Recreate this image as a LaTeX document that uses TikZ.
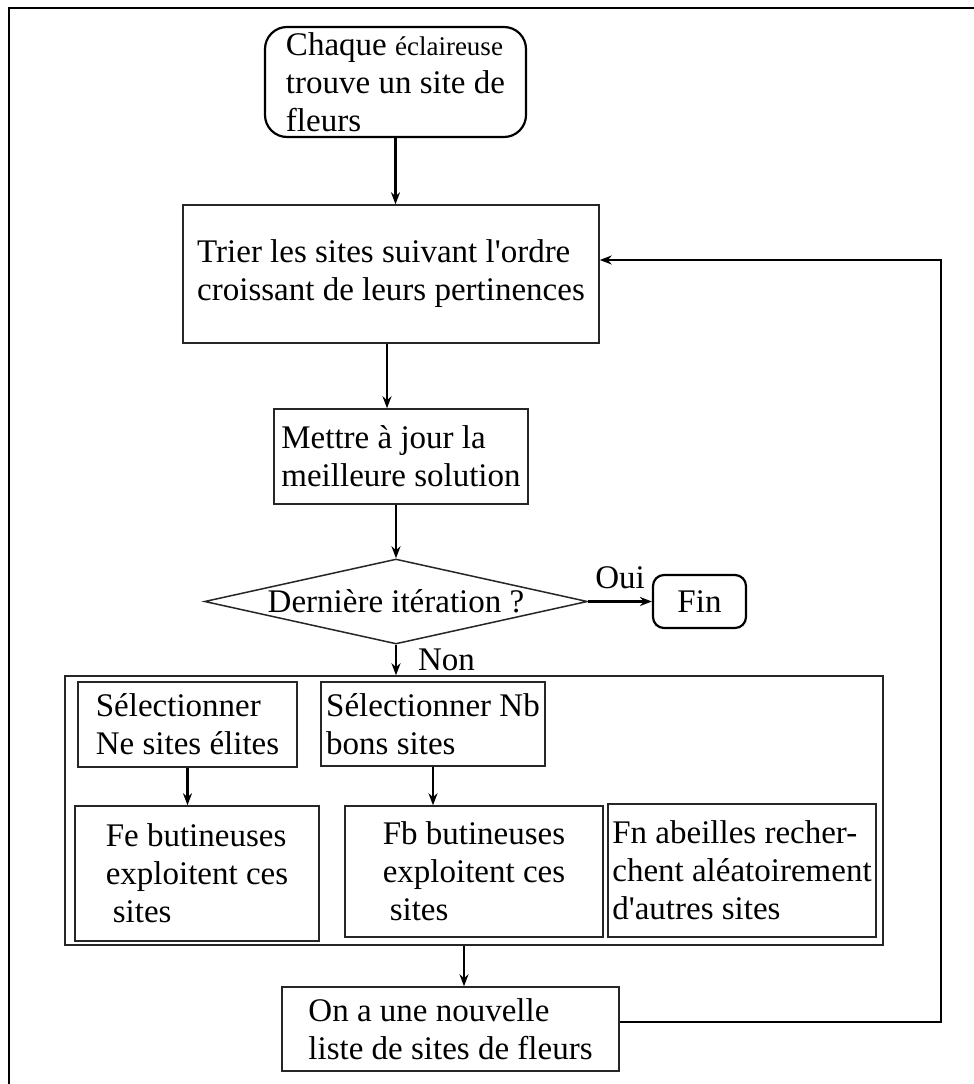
\documentclass[tikz,border=0pt]{standalone}
\usepackage{fontspec}
\setmainfont{Liberation Serif}
\usetikzlibrary{arrows.meta,shapes.geometric}
\begin{document}
\begin{tikzpicture}[x=1pt,y=-1pt,
  font=\fontsize{33}{38}\selectfont,
  box/.style={draw=black!85, line width=1.5pt, align=left, inner sep=0pt},
  roundbox/.style={box, draw=black, line width=2.2pt, rounded corners=22pt},
  arr/.style={-{Stealth[length=12pt,width=9pt]}, line width=2.2pt},
  lbl/.style={inner sep=1pt}]
\useasboundingbox (0,0) rectangle (974,1084);
\fill[white] (0,0) rectangle (974,1084);
\draw[line width=2.2pt] (9,1084) -- (9,8) -- (974,8);

\node[roundbox, minimum width=261pt, minimum height=110pt] (start) at (395.5,82)
  {Chaque {\fontsize{27}{38}\selectfont éclaireuse}\\trouve un site de\\fleurs};
\node[box, minimum width=416pt, minimum height=138pt] (trier) at (391,274)
  {Trier les sites suivant l\textquotesingle ordre\\croissant de leurs pertinences};
\node[box, minimum width=254pt, minimum height=95pt] (mettre) at (401,456.5)
  {Mettre à jour la\\meilleure solution};
\node[diamond, draw=black!85, line width=1.5pt, shape aspect=4.5, inner sep=0pt,
  minimum width=383pt, minimum height=85pt] (test) at (396,601.5)
  {\makebox[220pt][c]{Dernière itération ?}};
\node[roundbox, rounded corners=11pt, minimum width=93pt, minimum height=53pt] (fin) at (699.5,601.5) {Fin};

\node[box, minimum width=818pt, minimum height=269pt] (group) at (474,810.5) {};
\node[box, minimum width=219pt, minimum height=85pt] (sel1) at (187.5,724.5)
  {Sélectionner\\Ne sites élites};
\node[box, minimum width=224pt, minimum height=84pt] (sel2) at (433,724)
  {Sélectionner Nb\\bons sites};
\node[box, minimum width=244pt, minimum height=135pt] (fe) at (197,873.5)
  {Fe butineuses\\exploitent ces\\\hspace{7pt}sites};
\node[box, minimum width=258pt, minimum height=131pt] (fb) at (474,871.5)
  {Fb butineuses\\exploitent ces\\\hspace{7pt}sites};
\node[box, minimum width=268pt, minimum height=133pt] (fn) at (742,870.5)
  {Fn abeilles recher-\\chent aléatoirement\\d\textquotesingle autres sites};
\node[box, minimum width=337pt, minimum height=84pt] (new) at (450.5,1029)
  {On a une nouvelle\\liste de sites de fleurs};

\coordinate (loop) at (941,0);
\coordinate (nE) at ([yshift=7pt]new.east);
\coordinate (tE) at ([yshift=14pt]trier.east);
\coordinate (tS) at ([xshift=-4pt]trier.south);
\coordinate (gS) at ([xshift=-10pt]group.south);

\draw[arr] (start.south) -- (start.south |- trier.north);
\draw[arr] (tS) -- (tS |- mettre.north);
\draw[arr] (mettre.south -| test.north) -- (test.north);
\draw[arr] (test.east) -- node[lbl, above, yshift=11pt] {Oui} (fin.west);
\draw[arr] (test.south) -- node[lbl, right, xshift=20pt, yshift=0pt] {Non} (test.south |- group.north);
\draw[arr] (sel1.south) -- (sel1.south |- fe.north);
\draw[arr] (sel2.south) -- (sel2.south |- fb.north);
\draw[arr] (gS) -- (gS |- new.north);
\draw[arr] (nE) -- (nE -| loop) -- (tE -| loop) -- (tE);
\end{tikzpicture}
\end{document}
